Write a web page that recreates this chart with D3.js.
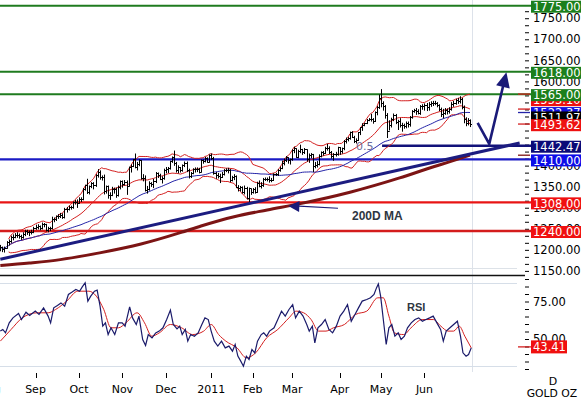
<!DOCTYPE html>
<html><head><meta charset="utf-8">
<script src="https://cdn.jsdelivr.net/npm/d3@7"></script>
<style>body{margin:0;background:#fff}svg{display:block}</style>
</head><body><svg id="c" width="581" height="398"></svg>
<script>
// ---------- data ----------
const monthLabels = ["Aug","Sep","Oct","Nov","Dec","2011","Feb","Mar","Apr","May","Jun"];
const monthStart  = [-5,17,38,59,80,102,122,141,164,184,205]; // trading-day index

const close = [
1201,1197,1200,1213,1216,1226,1226,1230,1231,1228,1226,1232,1240,1238,1238,1238,1248,
1250,1251,1247,1257,1256,1242,1246,1246,1268,1269,1275,1276,1279,1274,1292,1292,1297,1297,1309,1308,1307,
1317,1316,1340,1349,1333,1346,1354,1350,1372,1381,1369,1368,1335,1346,1325,1326,1339,1340,1325,1345,1358,
1352,1356,1348,1392,1395,1410,1392,1400,1408,1367,1367,1338,1339,1353,1352,1359,1377,1374,1364,1366,1386,
1388,1389,1406,1415,1402,1384,1391,1385,1397,1402,1385,1371,1378,1387,1388,1388,1381,1408,1406,1414,1405,1421,
1414,1378,1373,1371,1369,1376,1384,1386,1386,1361,1369,1371,1345,1342,1344,1332,1342,1319,1341,1333,
1340,1333,1354,1348,1349,1364,1364,1363,1360,1362,1375,1375,1385,1389,1401,1409,1415,1409,1411,
1432,1436,1416,1429,1434,1427,1434,1411,1421,1422,1395,1397,1400,1419,1427,1426,1438,1437,1428,1417,1423,1424,1439,
1429,1437,1454,1458,1460,1475,1464,1454,1456,1474,1486,1492,1496,1504,1505,1506,1501,1523,1535,1556,
1545,1537,1516,1478,1492,1505,1516,1500,1502,1491,1492,1489,1496,1494,1511,1525,1528,1525,1521,1537,1536,
1539,1534,1542,1543,1545,1544,1539,1529,1518,1521,1527,1524,1530,1541,1545,1550,1548,1553,1535,1505,1497,1503,
1493.62];
const high = [
1207,1203,1203,1216,1220,1229,1232,1235,1237,1234,1231,1237,1243,1243,1241,1243,1250,
1255,1256,1253,1260,1259,1257,1250,1250,1274,1272,1277,1280,1283,1282,1295,1297,1300,1300,1310,1314,1315,
1320,1320,1342,1350,1364,1348,1356,1356,1375,1387,1384,1372,1374,1348,1348,1332,1345,1343,1343,1348,1360,
1360,1361,1360,1393,1398,1411,1424,1404,1410,1408,1375,1372,1347,1358,1356,1364,1380,1379,1376,1370,1388,
1392,1392,1407,1417,1431,1404,1396,1392,1398,1405,1405,1388,1380,1389,1391,1391,1390,1410,1410,1416,1415,1422,
1424,1416,1380,1378,1376,1380,1387,1389,1390,1387,1371,1375,1372,1349,1347,1346,1348,1345,1343,1340,
1342,1344,1357,1360,1356,1366,1367,1367,1370,1366,1377,1378,1387,1393,1407,1412,1418,1415,1412,
1434,1440,1436,1433,1445,1435,1437,1434,1424,1425,1423,1404,1406,1422,1429,1430,1440,1447,1441,1430,1425,1428,1440,
1439,1438,1456,1462,1463,1476,1477,1466,1460,1475,1486,1496,1497,1506,1508,1518,1508,1524,1537,1564,
1577,1548,1539,1520,1503,1509,1519,1518,1504,1508,1497,1495,1500,1500,1513,1527,1530,1532,1529,1539,1541,
1543,1544,1546,1548,1549,1549,1546,1541,1533,1530,1532,1531,1534,1546,1549,1554,1556,1560,1556,1538,1510,1508,
1505];
const low = [
1193,1191,1190,1199,1207,1213,1219,1224,1225,1223,1220,1223,1229,1232,1229,1233,1236,
1244,1245,1243,1245,1250,1240,1238,1241,1245,1262,1265,1270,1272,1270,1271,1285,1290,1292,1294,1304,1296,
1306,1310,1314,1337,1329,1328,1343,1340,1346,1368,1363,1361,1328,1330,1318,1315,1324,1330,1320,1323,1340,
1344,1349,1327,1347,1380,1393,1390,1385,1395,1363,1359,1335,1330,1337,1346,1343,1355,1367,1362,1354,1363,
1378,1379,1387,1403,1396,1380,1378,1380,1382,1393,1381,1366,1367,1376,1380,1381,1378,1381,1401,1404,1404,1404,
1410,1375,1365,1366,1355,1367,1373,1381,1378,1357,1359,1362,1343,1335,1335,1330,1328,1316,1309,1327,
1330,1330,1332,1345,1342,1346,1360,1359,1356,1357,1360,1372,1372,1382,1388,1397,1405,1401,1399,
1408,1426,1415,1414,1426,1422,1424,1406,1403,1414,1381,1390,1392,1397,1416,1420,1424,1432,1424,1413,1408,1418,1420,
1422,1425,1433,1449,1454,1458,1462,1450,1449,1455,1469,1479,1490,1495,1502,1501,1496,1500,1516,1531,
1535,1527,1508,1462,1480,1487,1502,1495,1481,1487,1477,1484,1485,1487,1489,1508,1522,1517,1518,1517,1529,
1527,1526,1527,1536,1538,1540,1535,1526,1512,1509,1517,1518,1520,1527,1536,1541,1543,1544,1530,1497,1490,1492,
1488];

// 200-day moving average
const ma200Day = [0,14,29,48,68,87,97,113,129,145,169,193,209,217,227];
const ma200Val = [1158,1164,1172,1188,1209,1236,1252,1274,1290,1305,1332,1366,1392,1404,1420];
// long trend line
const trendDay = [0,251];
const trendVal = [1173,1449];

// horizontal levels
const levelVals   = [1775,1618,1565,1442.47,1410,1308,1240];
const levelColors = ["#1f7b1f","#1f7b1f","#1f7b1f","#12127a","#1a1ac4","#e81414","#d41c1c"];
const levelBoxCol = ["#1c7f1c","#1c7f1c","#1c7f1c","#0a0a78","#0d0de8","#f01010","#f01010"];
const levelFrom   = [-10,-10,-10,184.5,-10,-10,-10];
// stacked indicator tags at the right
const tagVals   = [1553.10,1522.37,1511.97,1493.62];
const tagColors = ["#ee1111","#1010dd","#000000","#ee1111"];
// axis labels that are fully hidden behind the tags
const hiddenTicks = [1450,1500,1550];

// RSI
const rsiDay = [0,1.2,2.5,4.3,6.1,8.8,10.2,12.4,14.2,16.9,18.7,20.9,23.1,24.3,25.8,27.6,29.3,31.1,32.9,34.7,36.5,38.3,39.6,41.0,42.3,43.7,45.5,46.8,48.2,49.5,50.8,52.1,53.5,55.3,57.1,58.9,60.3,62.5,63.9,65.7,67.0,68.8,70.2,71.5,73.3,75.1,76.8,78.6,80.4,82.2,83.6,85.4,86.7,87.9,89.4,90.6,92.0,93.8,95.6,97.4,98.9,100.5,101.9,103.4,105.1,106.9,108.7,110.5,112.2,113.5,114.8,116.2,117.5,118.9,120.2,121.6,123.0,124.3,126.1,127.3,128.7,130.1,132.3,134.1,135.9,137.7,139.5,141.3,142.7,144.5,146.3,148.1,149.3,150.8,152.0,153.5,155.2,157.0,158.8,160.6,162.4,164.2,166.0,167.8,169.6,171.4,173.1,174.9,177.1,178.9,180.6,181.8,182.7,183.8,185.1,186.5,187.8,189.2,190.7,192.3,193.7,195.3,196.8,198.6,200.4,202.2,204.0,205.7,207.5,209.2,211.0,212.8,214.1,215.5,217.3,219.1,220.9,222.4,223.6,225.1,226.3,227.6];
const rsiVal = [54.6,55.7,53.4,60.1,63.4,66.3,62.3,67.2,65.0,67.9,65.7,70.1,64.6,60.1,70.1,71.7,73.4,71.2,79.0,80.6,82.3,81.2,84.1,86.8,74.6,77.9,81.2,81.9,71.2,57.9,60.1,52.3,56.8,52.3,60.1,60.1,57.9,70.8,63.4,59.0,64.6,49.0,45.0,52.3,50.1,53.4,54.6,56.8,62.3,68.6,59.0,56.1,57.9,52.3,55.7,47.9,52.3,51.2,53.4,59.0,63.4,62.3,54.6,47.9,44.6,47.9,43.4,44.6,41.2,45.7,37.9,34.6,31.2,37.9,35.7,42.3,40.1,47.9,52.3,53.4,51.2,54.6,56.8,62.3,67.9,64.6,69.0,72.3,63.4,67.9,64.6,59.0,54.6,57.9,46.8,56.8,59.0,62.3,55.7,53.4,57.9,64.6,67.9,72.3,61.2,65.7,70.1,74.6,75.7,76.8,79.0,83.4,86.1,77.9,62.3,45.7,56.8,59.0,51.2,53.4,49.0,51.2,56.8,60.1,62.3,63.4,61.2,62.3,63.4,64.6,60.1,55.7,47.9,54.6,56.8,59.0,61.2,51.2,40.1,37.9,39.0,43.41];
const sigDay = [0,5.2,10.6,17.7,23.1,26.7,32.1,37.4,42.8,46.4,50.0,53.5,57.1,60.7,66.1,69.7,73.2,76.8,82.2,87.6,92.9,98.3,101.9,105.5,109.0,114.4,118.9,123.4,128.7,134.1,139.5,143.0,146.6,150.2,153.8,157.4,161.0,166.3,171.7,177.1,182.4,185.1,187.8,190.5,195.0,198.5,203.9,209.3,212.9,216.4,219.1,221.8,224.5,227.6];
const sigVal = [47.9,55.7,63.4,66.8,66.8,69.0,74.6,81.2,81.2,77.9,69.0,56.8,56.8,60.1,66.8,60.1,51.2,53.4,59.0,56.8,52.3,54.6,59.0,52.3,47.9,43.4,36.8,40.1,50.1,55.7,63.4,67.9,66.8,62.3,54.6,54.6,56.8,59.0,65.7,67.9,76.8,76.8,64.6,53.4,52.3,56.8,62.3,62.3,57.9,54.6,54.6,57.9,51.2,43.41];

// annotations (trading-day index, price)
const arrowDay = [230.7,236.3,244.6];
const arrowVal = [1497,1447,1617];
const maArrowDay = [163.2,139.2];
const maArrowVal = [1294,1299.5];

// ---------- scales ----------
const svg = d3.select("#c");
const FONT = "DejaVu Sans, Verdana, sans-serif";
const x  = d3.scaleLinear().domain([0,227]).range([0.33,470]);
const yP = d3.scaleLinear().domain([1150,1775]).range([268.9,5.7]);
const yR = d3.scaleLinear().domain([50,75]).range([338,300.5]);
const fmt = d3.format(".2f");

// ---------- indicators derived from closes ----------
const bb = close.map((c,i)=>{
  const n = Math.min(20,i+1); if (n<5) return null;
  const w = close.slice(i-n+1,i+1); const m = d3.mean(w); const s = d3.deviation(w)*Math.sqrt((n-1)/n);
  return {i, m, u:m+2*s, l:m-2*s};
}).filter(d=>d);
const ma50 = close.map((c,i)=>{ const n=Math.min(50,i+1); return {i, v:d3.mean(close.slice(i-n+1,i+1))}; });

// ---------- background lines ----------
svg.append("line").attr("x1",472.5).attr("x2",472.5).attr("y1",0).attr("y2",372).attr("stroke","#dde2ea");
svg.append("line").attr("x1",0).attr("x2",517).attr("y1",268.5).attr("y2",268.5).attr("stroke","#dde2e8");
[283.5,366.5].forEach(v=>svg.append("line").attr("x1",0).attr("x2",517).attr("y1",v).attr("y2",v).attr("stroke","#d6dee8"));
svg.append("line").attr("x1",0).attr("x2",525).attr("y1",275.5).attr("y2",275.5).attr("stroke","#111").attr("stroke-width",1.3);

// ---------- price axis ----------
const pTicks = d3.range(0,38).map(k=>1150+k*50/3);
const isMajor = v => Math.abs(v/50-Math.round(v/50))<1e-6 && !hiddenTicks.includes(Math.round(v));
const gP = svg.append("g").attr("transform","translate(525,2)")
  .call(d3.axisRight(yP).tickValues(pTicks).tickSize(4).tickPadding(4).tickFormat(v=>isMajor(v)?fmt(v):""));
gP.select(".domain").remove();
gP.selectAll("text").attr("font-family",FONT).attr("font-size",11.5).attr("fill","#000");
gP.selectAll("line").attr("stroke","#000");

// ---------- RSI axis ----------
const gR = svg.append("g").attr("transform","translate(525,1)")
  .call(d3.axisRight(yR).tickValues(d3.range(30,91,5)).tickSize(4).tickPadding(4).tickFormat(v=>(v===50||v===75)?fmt(v):""));
gR.select(".domain").remove();
gR.selectAll("text").attr("font-family",FONT).attr("font-size",11.5).attr("fill","#000");
gR.selectAll("line").attr("stroke","#000");

// ---------- date axis ----------
const gD = svg.append("g");
monthStart.forEach((d,k)=>{
  const px = Math.round(x(d))+0.5;
  gD.append("line").attr("x1",px).attr("x2",px).attr("y1",373).attr("y2",378).attr("stroke","#000");
  gD.append("text").attr("x",x(d)).attr("y",393).attr("text-anchor","middle")
    .attr("font-family",FONT).attr("font-size",11).text(monthLabels[k]);
});
svg.append("text").attr("x",553).attr("y",385).attr("text-anchor","middle").attr("font-family",FONT).attr("font-size",11).text("D");
svg.append("text").attr("x",552).attr("y",396.5).attr("text-anchor","middle").attr("font-family",FONT).attr("font-size",10.8).text("GOLD OZ");

// ---------- level lines ----------
levelVals.forEach((v,k)=>{
  svg.append("line").attr("x1",Math.max(0,x(levelFrom[k]))).attr("x2",531)
    .attr("y1",yP(v)).attr("y2",yP(v)).attr("stroke",levelColors[k]).attr("stroke-width",k<3?2:2.4);
});

// ---------- price panel ----------
svg.append("defs").append("clipPath").attr("id","pc").append("rect").attr("x",0).attr("y",0).attr("width",472).attr("height",276);
const gPrice = svg.append("g").attr("clip-path","url(#pc)");
const lineP = (acc)=>d3.line().x(d=>x(d.i)).y(d=>yP(acc(d)));
gPrice.append("path").datum(bb).attr("d",lineP(d=>d.u)).attr("fill","none").attr("stroke","#d42020").attr("stroke-width",1);
gPrice.append("path").datum(bb).attr("d",lineP(d=>d.l)).attr("fill","none").attr("stroke","#d42020").attr("stroke-width",1);
gPrice.append("path").datum(bb).attr("d",lineP(d=>d.m)).attr("fill","none").attr("stroke","#d42020").attr("stroke-width",1);
gPrice.append("path").datum(ma50).attr("d",lineP(d=>d.v)).attr("fill","none").attr("stroke","#2424a8").attr("stroke-width",1);

// bars
const gBars = gPrice.append("g").attr("stroke","#000").attr("stroke-width",1);
close.forEach((c,i)=>{
  const px = Math.round(x(i))+0.5;
  gBars.append("line").attr("x1",px).attr("x2",px).attr("y1",yP(high[i])).attr("y2",yP(low[i])+0.5);
  const yc = Math.round(yP(c))+0.5;
  gBars.append("line").attr("x1",px).attr("x2",px+2).attr("y1",yc).attr("y2",yc);
  const yo = Math.round(yP(i>0?close[i-1]:c))+0.5;
  gBars.append("line").attr("x1",px-2).attr("x2",px).attr("y1",yo).attr("y2",yo);
});

// 200 MA and trend line
const ma200 = ma200Day.map((d,k)=>({i:d,v:ma200Val[k]}));
svg.append("path").datum(ma200).attr("d",d3.line().curve(d3.curveMonotoneX).x(d=>x(d.i)).y(d=>yP(d.v)))
  .attr("fill","none").attr("stroke","#7c1414").attr("stroke-width",3);
svg.append("line").attr("x1",x(trendDay[0])).attr("y1",yP(trendVal[0])).attr("x2",x(trendDay[1])).attr("y2",yP(trendVal[1]))
  .attr("stroke","#1c1c80").attr("stroke-width",3);

// markers of last indicator values
const last = bb[bb.length-1];
[[last.u,"#d42020"],[last.m,"#d42020"],[ma50[ma50.length-1].v,"#2424a8"],[last.l,"#d42020"],[ma200Val[ma200Val.length-1],"#7c1414"]]
 .forEach(([v,c])=>svg.append("line").attr("x1",518).attr("x2",530).attr("y1",yP(v)).attr("y2",yP(v)).attr("stroke",c).attr("stroke-width",1.3));

// annotations
const navy = "#1a1a78";
const aPts = arrowDay.map((d,k)=>[x(d),yP(arrowVal[k])]);
function arrowHead(from,to,len,half,color){
  const dx=to[0]-from[0], dy=to[1]-from[1], L=Math.hypot(dx,dy), ux=dx/L, uy=dy/L;
  const bx=to[0]-ux*len, by=to[1]-uy*len;
  svg.append("path").attr("d",`M${to[0]},${to[1]}L${bx-uy*half},${by+ux*half}L${bx+uy*half},${by-ux*half}Z`).attr("fill",color);
}
svg.append("path").attr("d",d3.line()([aPts[0],aPts[1],[aPts[2][0]-(aPts[2][0]-aPts[1][0])*0.15,aPts[2][1]+(aPts[1][1]-aPts[2][1])*0.15]]))
  .attr("fill","none").attr("stroke",navy).attr("stroke-width",2.6);
arrowHead(aPts[1],aPts[2],15,7,navy);
const mPts = maArrowDay.map((d,k)=>[x(d),yP(maArrowVal[k])]);
svg.append("line").attr("x1",mPts[0][0]).attr("y1",mPts[0][1]).attr("x2",mPts[1][0]+6).attr("y2",mPts[1][1]).attr("stroke",navy).attr("stroke-width",1.2);
arrowHead(mPts[0],mPts[1],11,5.5,navy);

svg.append("text").attr("x",352).attr("y",220).attr("font-family","Liberation Sans, Arial, sans-serif").attr("font-weight","bold").attr("font-size",12).attr("fill","#2e3642").text("200D MA");
svg.append("text").attr("x",356).attr("y",150).attr("font-family",FONT).attr("font-size",11).attr("fill","#6c6c9c").text("0.5");
svg.append("text").attr("x",407).attr("y",311).attr("font-family","Liberation Sans, Arial, sans-serif").attr("font-weight","bold").attr("font-size",11).attr("fill","#2e3642").text("RSI");

// ---------- RSI panel ----------
const gRsi = svg.append("g");
const rsi = rsiDay.map((d,k)=>({i:d,v:rsiVal[k]}));
const sig = sigDay.map((d,k)=>({i:d,v:sigVal[k]}));
gRsi.append("path").datum(sig).attr("d",d3.line().curve(d3.curveMonotoneX).x(d=>x(d.i)).y(d=>yR(d.v)))
  .attr("fill","none").attr("stroke","#d42020").attr("stroke-width",1);
gRsi.append("path").datum(rsi).attr("d",d3.line().x(d=>x(d.i)).y(d=>yR(d.v)))
  .attr("fill","none").attr("stroke","#1a1a6a").attr("stroke-width",1.2);
const rLast = rsiVal[rsiVal.length-1];
svg.append("line").attr("x1",518).attr("x2",531).attr("y1",yR(rLast)-1).attr("y2",yR(rLast)-1).attr("stroke","#d42020").attr("stroke-width",1.3);
svg.append("rect").attr("x",531).attr("y",yR(rLast)-7.5).attr("width",36).attr("height",13).attr("fill","#f01010");
svg.append("text").attr("x",533).attr("y",yR(rLast)+3).attr("font-family",FONT).attr("font-size",11.5).attr("fill","#fff").text(fmt(rLast));

// ---------- right tags ----------
function tag(v,col){
  const cy = yP(v)+1;
  svg.append("rect").attr("x",531).attr("y",cy-6).attr("width",50).attr("height",12).attr("fill",col);
  svg.append("text").attr("x",533).attr("y",cy+4.2).attr("font-family",FONT).attr("font-size",11.5).attr("fill","#fff").text(fmt(v));
}
tagVals.forEach((v,k)=>tag(v,tagColors[k]));
levelVals.forEach((v,k)=>tag(v,levelBoxCol[k]));
</script></body></html>
